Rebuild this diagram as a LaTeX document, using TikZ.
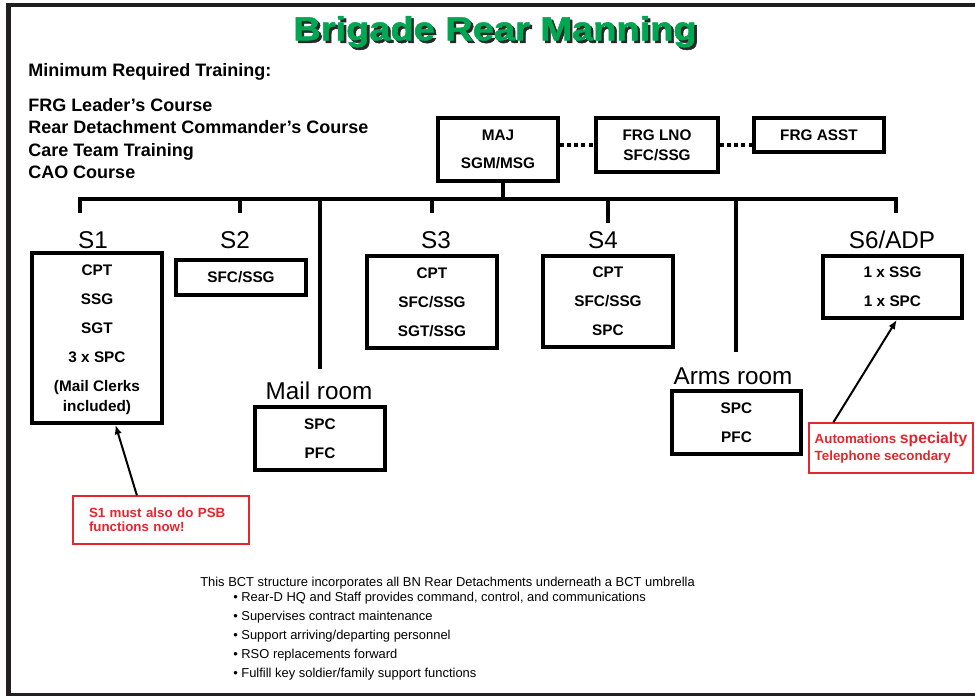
\documentclass[tikz,border=0pt]{standalone}
\usepackage{fontspec}
\usepackage{graphicx}
\setmainfont{Liberation Sans}
\newfontfamily\titlefont{Liberation Sans Bold}[FakeBold=1.5]
\usetikzlibrary{arrows.meta,calc}
\definecolor{tgreen}{RGB}{0,166,81}
\definecolor{tshadowc}{RGB}{40,40,40}
\definecolor{tred}{RGB}{228,38,45}
\definecolor{framec}{RGB}{35,31,32}
\newcommand{\titletext}{\scalebox{1.14}[1]{Brigade Rear Manning}}
\begin{document}
\begin{tikzpicture}[x=0.75pt,y=-0.75pt,
  box/.style={draw,line width=2.8pt,minimum width=97.5pt,inner sep=0pt,align=center,
    font=\bfseries\fontsize{11.5}{21.75}\selectfont},
  lbl/.style={anchor=base,inner sep=0pt,font=\fontsize{18.2}{22}\selectfont},
  train/.style={anchor=base west,inner sep=0pt,font=\bfseries\fontsize{13.5}{16}\selectfont},
  btxt/.style={anchor=base west,inner sep=0pt,font=\fontsize{9.7}{12}\selectfont},
  redbox/.style={draw=tred,line width=1.1pt,text=tred,inner sep=0pt,align=left,
    font=\bfseries\fontsize{10}{10.5}\selectfont},
  conn/.style={line width=2.8pt},
  dotline/.style={line width=3pt,dash pattern=on 3pt off 2.4pt},
  arr/.style={line width=1.5pt,-{Latex[length=7pt,width=5.5pt]}}]
\useasboundingbox (0,0) rectangle (975,696);
% frame
\fill[framec] (6,3) rectangle (975,7);
\fill[framec] (6,3) rectangle (11,696);
\fill[framec] (6,692.5) rectangle (975,696);
% title (with drop shadow in the same node)
\node[inner sep=0pt] (title) at (495,33)
  {\titlefont\fontsize{25}{30}\selectfont\makebox[0pt][l]{\hspace{1.9pt}\raisebox{-1.9pt}{\color{tshadowc}\titletext}}\textcolor{tgreen}{\titletext}};
% training
\node[train] (t0) at (28,76) {Minimum Required Training:};
\node[train] (t1) at (28,111.5) {FRG Leader’s Course};
\node[train] (t2) at (28,133.5) {Rear Detachment Commander’s Course};
\node[train] (t3) at (28,156) {Care Team Training};
\node[train] (t4) at (28,178) {CAO Course};
% top boxes
\node[box,minimum width=90pt,minimum height=47.25pt,font=\bfseries\fontsize{11.5}{21}\selectfont] (maj) at (498,149.5) {MAJ\\SGM/MSG};
\node[box,minimum width=91.5pt,minimum height=40.5pt,font=\bfseries\fontsize{11.5}{15}\selectfont] (lno) at (657,145) {FRG LNO\\SFC/SSG};
\node[box,minimum width=97.5pt,minimum height=25.5pt] (asst) at (819,135) {FRG ASST};
\draw[dotline] (maj.east |- lno.west) -- (lno.west);
\draw[dotline] (lno.east) -- (lno.east -| asst.west);
% tree
\coordinate (d1) at (80,213);
\coordinate (barL) at (80,199);
\coordinate (barR) at (896,199);
\coordinate (d6) at (896,213);
\coordinate (majdrop) at (503,199);
\draw[conn,line join=miter] (d1) -- (barL) -- (barR) -- (d6);
\draw[conn] (maj.south -| majdrop) -- (majdrop);
\coordinate (d2t) at (240,199); \coordinate (d2) at (240,213);
\coordinate (dmt) at (320,199); \coordinate (dm) at (320,369);
\coordinate (d3t) at (432,199); \coordinate (d3) at (432,213);
\coordinate (d4t) at (608,199); \coordinate (d4) at (608,223);
\coordinate (dat) at (736,199); \coordinate (da) at (736,352);
\draw[conn] (d2t) -- (d2);
\draw[conn] (dmt) -- (dm);
\draw[conn] (d3t) -- (d3);
\draw[conn] (d4t) -- (d4);
\draw[conn] (dat) -- (da);
% labels
\node[lbl] (ls1) at (93,248) {S1};
\node[lbl] (ls2) at (235,248) {S2};
\node[lbl] (ls3) at (436,248) {S3};
\node[lbl] (ls4) at (603,248) {S4};
\node[lbl] (ls6) at (892,248) {S6/ADP};
\node[lbl] (lmail) at (319,399) {Mail room};
\node[lbl] (larms) at (733,384.5) {Arms room};
% boxes
\node[box,minimum height=127.5pt] (s1) at (97,338) {\rule{0pt}{11pt}CPT\\SSG\\SGT\\3 x SPC\\(Mail Clerks\\[-6.75pt]included)};
\node[box,minimum height=26.25pt] (s2) at (241,277.5) {SFC/SSG};
\node[box,minimum height=47.25pt] (mail) at (320,438.5) {SPC\\PFC};
\node[box,minimum height=69pt] (s3) at (432,302) {CPT\\SFC/SSG\\SGT/SSG};
\node[box,minimum height=68.25pt] (s4) at (608,301.5) {CPT\\SFC/SSG\\SPC};
\node[box,minimum width=96.75pt,minimum height=47.25pt] (arms) at (736.5,422.5) {SPC\\PFC};
\node[box,minimum width=104.25pt,minimum height=46.5pt] (s6) at (892.5,287) {1 x SSG\\1 x SPC};
% red notes
\node[redbox,minimum width=132pt,minimum height=36pt,text width=108pt] (r1) at (161,520)
  {S1 must also do PSB\\functions now!};
\node[redbox,minimum width=123pt,minimum height=37.5pt,font=\bfseries\fontsize{10}{12.75}\selectfont] (r2) at (891,448)
  {Automations {\fontsize{11.8}{12.75}\selectfont specialty}\\Telephone secondary};
\draw[arr] ($(r1.north west)!0.364!(r1.north east)$) -- ($(s1.south west)!0.638!(s1.south east)$);
\draw[arr] ($(r2.north west)!0.152!(r2.north east)$) -- ($(s6.south west)!0.53!(s6.south east)$);
% bottom text
\node[btxt] (b0) at (200,586.6) {This BCT structure incorporates all BN Rear Detachments underneath a BCT umbrella};
\node[btxt] (b1) at (233,601.6) {\textbullet\ Rear-D HQ and Staff provides command, control, and communications};
\node[btxt] (b2) at (233,620.6) {\textbullet\ Supervises contract maintenance};
\node[btxt] (b3) at (233,639.6) {\textbullet\ Support arriving/departing personnel};
\node[btxt] (b4) at (233,658.6) {\textbullet\ RSO replacements forward};
\node[btxt] (b5) at (233,677.6) {\textbullet\ Fulfill key soldier/family support functions};
\end{tikzpicture}
\end{document}
